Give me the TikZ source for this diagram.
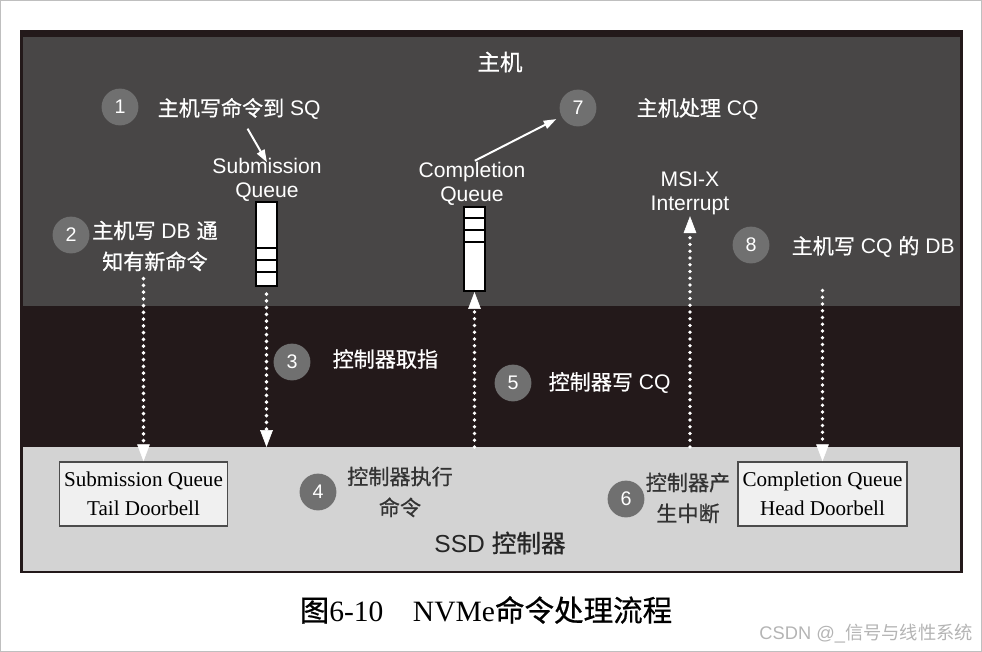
\documentclass[tikz,border=0pt]{standalone}
\usepackage{fontspec}
\setmainfont{Liberation Serif}
\setsansfont{Liberation Sans}
\newfontfamily\cjk{Noto Sans CJK SC}[FakeBold=0.7]
\newfontfamily\cjkthin{Noto Sans CJK SC}
\newcommand{\zh}[1]{{\cjk #1}}
\usetikzlibrary{arrows.meta, positioning}
\definecolor{hostgray}{RGB}{72,70,70}
\definecolor{bandblack}{RGB}{35,25,26}
\definecolor{ssdgray}{RGB}{211,211,211}
\definecolor{numgray}{RGB}{112,112,112}
\definecolor{boxgray}{RGB}{240,240,240}
\definecolor{markgray}{RGB}{180,180,180}
\tikzstyle{num} = [circle, fill=numgray, text=white, minimum size=0.92cm, inner sep=0pt,
   font=\sffamily\fontsize{14}{14}\selectfont]
\tikzstyle{lbl} = [text=white, inner sep=1pt, align=center, font=\sffamily\fontsize{15}{17}\selectfont]
\tikzstyle{zhlbl} = [lbl, font=\sffamily\fontsize{15}{22}\selectfont]
\tikzstyle{queue} = [draw=black, fill=white, line width=1.5pt, minimum width=0.53cm,
   minimum height=2.1cm, inner sep=0pt]
\tikzstyle{doorbell} = [draw=black!70, fill=boxgray, line width=1.2pt, minimum width=4.18cm,
   minimum height=1.6cm, align=center, font=\rmfamily\fontsize{15}{21}\selectfont]
\tikzstyle{dotArrow} = [white, line width=2.8pt, line cap=round, dash pattern=on 0pt off 4.8pt,
   -{Triangle[length=12pt,width=9pt,line width=0.4pt]}]
\tikzstyle{solidArrow} = [white, line width=1.4pt, -{Triangle[length=9pt,width=6pt]}]

\begin{document}
\begin{tikzpicture}[x=0.025cm, y=-0.025cm]
  \useasboundingbox (0,0) rectangle (982,652);
  \draw[gray!50, line width=0.8pt] (0.5,0.5) rectangle (981.5,651.5); % screenshot edge

  % the three layers
  \fill[bandblack] (20,30) rectangle (963,573);
  \fill[hostgray] (23,37) rectangle (960,306);
  \fill[ssdgray] (23,447) rectangle (960,571);
  \coordinate (ssd_top) at (500,447);

  \node[lbl, font=\cjk\fontsize{16}{16}\selectfont] (host) at (500,62) {主机};
  \node[lbl, text=black!85, font=\sffamily\fontsize{17.5}{17.5}\selectfont] (ssd) at (500,543) {SSD \zh{控制器}};

  % queues in host memory
  \node[queue] (sq) at (266.5,244) {};
  \draw[line width=1.5pt] (256,248) -- (277,248);
  \draw[line width=1.5pt] (256,260) -- (277,260);
  \draw[line width=1.5pt] (256,272) -- (277,272);
  \node[queue] (cq) at (474.5,249) {};
  \draw[line width=1.5pt] (464,218) -- (485,218);
  \draw[line width=1.5pt] (464,230) -- (485,230);
  \draw[line width=1.5pt] (464,242) -- (485,242);

  \node[lbl] (sq_lbl) at (267,180) {Submission\\Queue};
  \node[lbl] (cq_lbl) at (472,184) {Completion\\Queue};
  \node[lbl] (msi) at (690,193) {MSI-X\\Interrupt};

  % doorbell registers
  \node[doorbell] (sq_db) at (143.5,494) {Submission Queue\\Tail Doorbell};
  \node[doorbell] (cq_db) at (822.5,494) {Completion Queue\\Head Doorbell};

  % steps
  \node[num] (c1) at (120,107) {1};
  \node[lbl, anchor=west] (t1) at (156,109) {\zh{主机写命令到} SQ};
  \node[num] (c2) at (71,235) {2};
  \node[zhlbl] (t2) at (155,246) {\zh{主机写} DB \zh{通}\\\zh{知有新命令}};
  \node[num] (c3) at (292,362) {3};
  \node[lbl, anchor=west] (t3) at (331,359) {\zh{控制器取指}};
  \node[num] (c4) at (318,492) {4};
  \node[zhlbl, text=black!80] (t4) at (400,492) {\zh{控制器执行}\\\zh{命令}};
  \node[num] (c5) at (513,383) {5};
  \node[lbl, anchor=west] (t5) at (547,383) {\zh{控制器写} CQ};
  \node[num] (c6) at (626,499) {6};
  \node[zhlbl, text=black!80] (t6) at (688,498) {\zh{控制器产}\\\zh{生中断}};
  \node[num] (c7) at (578,108) {7};
  \node[lbl, anchor=west] (t7) at (635,109) {\zh{主机处理} CQ};
  \node[num] (c8) at (751,245) {8};
  \node[lbl, anchor=west] (t8) at (790,247) {\zh{主机写} CQ \zh{的} DB};

  % connectors
  \draw[solidArrow] ([xshift=6pt,yshift=-5pt]t1.south) -- ([yshift=-4pt]sq_lbl.north);
  \draw[solidArrow, shorten >=4pt] ([xshift=2pt]cq_lbl.north) -- (c7);
  \draw[dotArrow, shorten <=4pt] (sq_db.north |- t2.south) -- (sq_db.north);
  \draw[dotArrow, shorten <=5pt] (sq.south) -- (sq.south |- ssd_top);
  \draw[dotArrow] (cq.south |- ssd_top) -- (cq.south);
  \draw[dotArrow] (msi.south |- ssd_top) -- (msi.south);
  \draw[dotArrow, shorten <=22pt] (cq_db.north |- t8.south) -- (cq_db.north);

  \node[font=\fontsize{21}{21}\selectfont] (caption) at (486,610) {\zh{图}6-10\quad NVMe\zh{命令处理流程}};
  \node[anchor=east, text=markgray, font=\sffamily\fontsize{13}{13}\selectfont] (mark) at (978,634) {CSDN @\_{\cjkthin 信号与线性系统}};
\end{tikzpicture}
\end{document}
